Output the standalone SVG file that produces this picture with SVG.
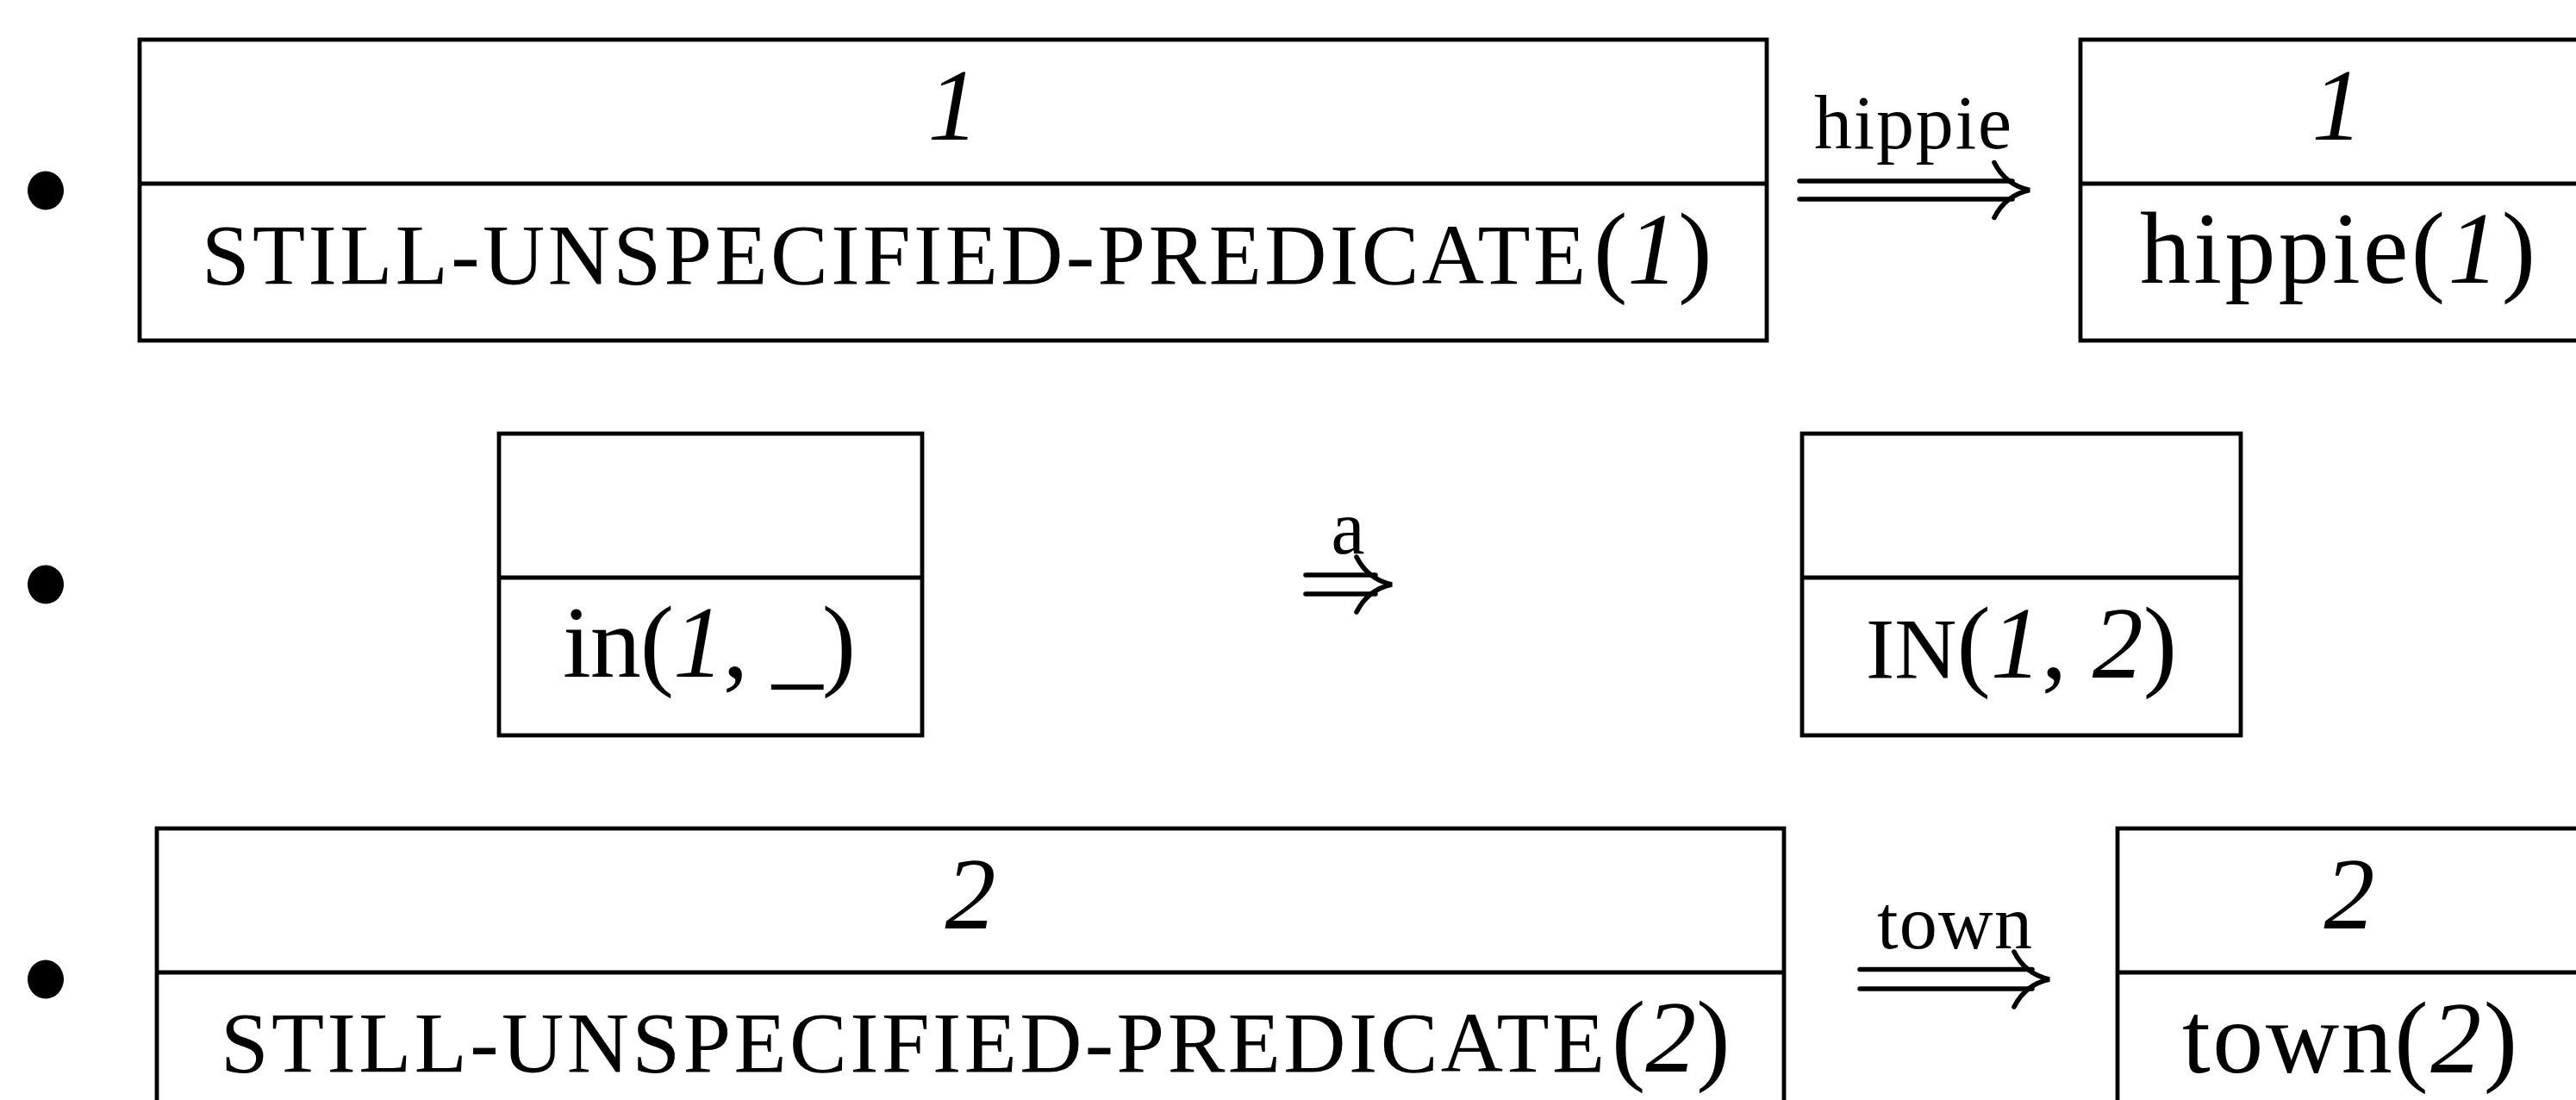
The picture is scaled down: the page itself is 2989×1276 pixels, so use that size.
<svg xmlns="http://www.w3.org/2000/svg" width="2989" height="1276" viewBox="0 0 2989 1276">
  <style>
    .box { fill: #fff; stroke: #000; stroke-width: 4.8; }
    .rule { stroke: #000; stroke-width: 4.8; }
    .shaft { stroke: #000; stroke-width: 5.5; stroke-linecap: round; }
    .head { fill: none; stroke: #000; stroke-width: 5.5; stroke-linecap: round; }
    text { font-family: "Liberation Serif", "DejaVu Serif", serif; fill: #000; }
    .t { font-size: 118px; }
    .sc { font-size: 100px; }
    .it { font-style: italic; }
    .lbl { font-size: 88px; }
    .mid { text-anchor: middle; }
  </style>
  <defs>
    <!-- curved head of a double arrow, tip at origin -->
    <path id="dhead" class="head" d="M-41,-32 Q-28,-6 0,0 Q-28,6 -41,32"/>
  </defs>

  <rect width="2989" height="1276" fill="#fff"/>

  <!-- list bullets -->
  <g id="bullets">
    <ellipse cx="53" cy="221" rx="21" ry="22.5"/>
    <ellipse cx="53" cy="678" rx="21" ry="22.5"/>
    <ellipse cx="53" cy="1136" rx="21" ry="22.5"/>
  </g>

  <!-- item 1 -->
  <g id="node-unspec-1">
    <rect class="box" x="162" y="46" width="1888" height="349"/>
    <line class="rule" x1="162" y1="213" x2="2050" y2="213"/>
    <text class="t it mid" x="1106" y="162">1</text>
    <text class="sc" x="234" y="329" textLength="1606" lengthAdjust="spacing">STILL-UNSPECIFIED-PREDICATE</text>
    <text class="t" x="1849" y="329">(<tspan class="it">1</tspan>)</text>
  </g>
  <g id="node-hippie">
    <rect class="box" x="2414" y="46" width="700" height="349"/>
    <line class="rule" x1="2414" y1="213" x2="3114" y2="213"/>
    <text class="t it mid" x="2712" y="162">1</text>
    <text class="t" x="2483" y="328" textLength="459" lengthAdjust="spacing">hippie(<tspan class="it">1</tspan>)</text>
  </g>

  <!-- item 2 -->
  <g id="node-in">
    <rect class="box" x="579" y="503" width="491" height="350"/>
    <line class="rule" x1="579" y1="670" x2="1070" y2="670"/>
    <text class="t" x="653" y="785" textLength="340" lengthAdjust="spacing">in(<tspan class="it">1</tspan>, _)</text>
  </g>
  <g id="node-IN">
    <rect class="box" x="2091" y="503" width="509" height="350"/>
    <line class="rule" x1="2091" y1="670" x2="2600" y2="670"/>
    <text class="t" x="2165" y="786"><tspan class="sc">IN</tspan>(<tspan class="it">1</tspan>, <tspan class="it">2</tspan>)</text>
  </g>

  <!-- item 3 -->
  <g id="node-unspec-2">
    <rect class="box" x="182" y="961" width="1888" height="350"/>
    <line class="rule" x1="182" y1="1128" x2="2070" y2="1128"/>
    <text class="t it mid" x="1126" y="1077">2</text>
    <text class="sc" x="256" y="1243" textLength="1606" lengthAdjust="spacing">STILL-UNSPECIFIED-PREDICATE</text>
    <text class="t" x="1870" y="1243">(<tspan class="it">2</tspan>)</text>
  </g>
  <g id="node-town">
    <rect class="box" x="2457" y="961" width="700" height="350"/>
    <line class="rule" x1="2457" y1="1128" x2="3157" y2="1128"/>
    <text class="t it mid" x="2726" y="1077">2</text>
    <text class="t" x="2532" y="1244" textLength="389" lengthAdjust="spacing">town(<tspan class="it">2</tspan>)</text>
  </g>

  <!-- rewriting arrows -->
  <g id="connectors">
    <g id="arrow-hippie">
      <line class="shaft" x1="2088" y1="210" x2="2335" y2="210"/>
      <line class="shaft" x1="2088" y1="231" x2="2335" y2="231"/>
      <use href="#dhead" transform="translate(2355,220.5)"/>
      <text class="lbl" x="2105" y="172" textLength="229" lengthAdjust="spacing">hippie</text>
    </g>
    <g id="arrow-a">
      <line class="shaft" x1="1515" y1="667" x2="1596" y2="667"/>
      <line class="shaft" x1="1515" y1="689" x2="1596" y2="689"/>
      <use href="#dhead" transform="translate(1615,678)"/>
      <text class="lbl mid" x="1564" y="642">a</text>
    </g>
    <g id="arrow-town">
      <line class="shaft" x1="2158" y1="1124.5" x2="2358" y2="1124.5"/>
      <line class="shaft" x1="2158" y1="1147" x2="2358" y2="1147"/>
      <use href="#dhead" transform="translate(2378,1136)"/>
      <text class="lbl" x="2178" y="1100" textLength="180" lengthAdjust="spacing">town</text>
    </g>
  </g>
</svg>
